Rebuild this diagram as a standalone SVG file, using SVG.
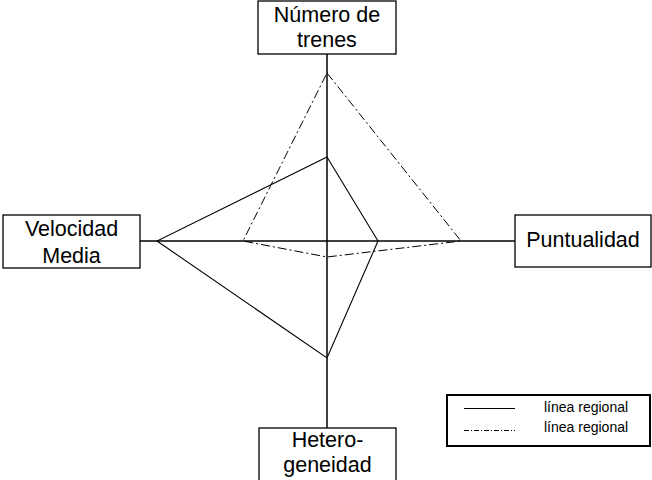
<svg xmlns="http://www.w3.org/2000/svg" width="652" height="480" viewBox="0 0 652 480">
  <style>
    .box { fill: #ffffff; stroke: #000000; stroke-width: 1.3; }
    .lbl { font-family: "Liberation Sans", Arial, sans-serif; font-size: 21.5px; fill: #000000; text-anchor: middle; }
    .axis { stroke: #000000; stroke-width: 1.5; fill: none; }
    .solid { stroke: #000000; stroke-width: 1.1; fill: none; stroke-linejoin: miter; }
    .dashdot { stroke: #000000; stroke-width: 1; fill: none; stroke-dasharray: 9 3 2 3; }
    .legtxt { font-family: "Liberation Sans", Arial, sans-serif; font-size: 14px; fill: #000000; }
  </style>
  <rect width="652" height="480" fill="#ffffff"/>

  <g id="connectors">
    <line class="axis" x1="327" y1="54" x2="327" y2="428"/>
    <line class="axis" x1="140" y1="241" x2="515" y2="241"/>
  </g>

  <g id="series-solid">
    <polygon class="solid" points="327,157 378,241 327,358 157,241"/>
  </g>
  <g id="series-dashdot">
    <polygon class="dashdot" points="327,73 461,241 327,257 243,241"/>
  </g>

  <g id="node-numero-trenes">
    <rect class="box" x="258" y="1" width="138" height="53"/>
    <text class="lbl" x="327" y="22">Número de</text>
    <text class="lbl" x="327" y="47">trenes</text>
  </g>

  <g id="node-velocidad-media">
    <rect class="box" x="3" y="215" width="137" height="53"/>
    <text class="lbl" x="71.5" y="236">Velocidad</text>
    <text class="lbl" x="71.5" y="263">Media</text>
  </g>

  <g id="node-puntualidad">
    <rect class="box" x="515" y="215" width="136" height="52"/>
    <text class="lbl" x="583" y="247">Puntualidad</text>
  </g>

  <g id="node-heterogeneidad">
    <rect class="box" x="259" y="428" width="137" height="55"/>
    <text class="lbl" x="327.5" y="447">Hetero-</text>
    <text class="lbl" x="327.5" y="472">geneidad</text>
  </g>

  <g id="legend">
    <rect x="447" y="395" width="203" height="51" fill="#ffffff" stroke="#000000" stroke-width="2"/>
    <line x1="464" y1="408.5" x2="515" y2="408.5" stroke="#000000" stroke-width="1"/>
    <line x1="464" y1="430.5" x2="515" y2="430.5" stroke="#000000" stroke-width="1" stroke-dasharray="5 2 1 2"/>
    <text class="legtxt" x="544" y="412">línea regional</text>
    <text class="legtxt" x="544" y="432">línea regional</text>
  </g>
</svg>
